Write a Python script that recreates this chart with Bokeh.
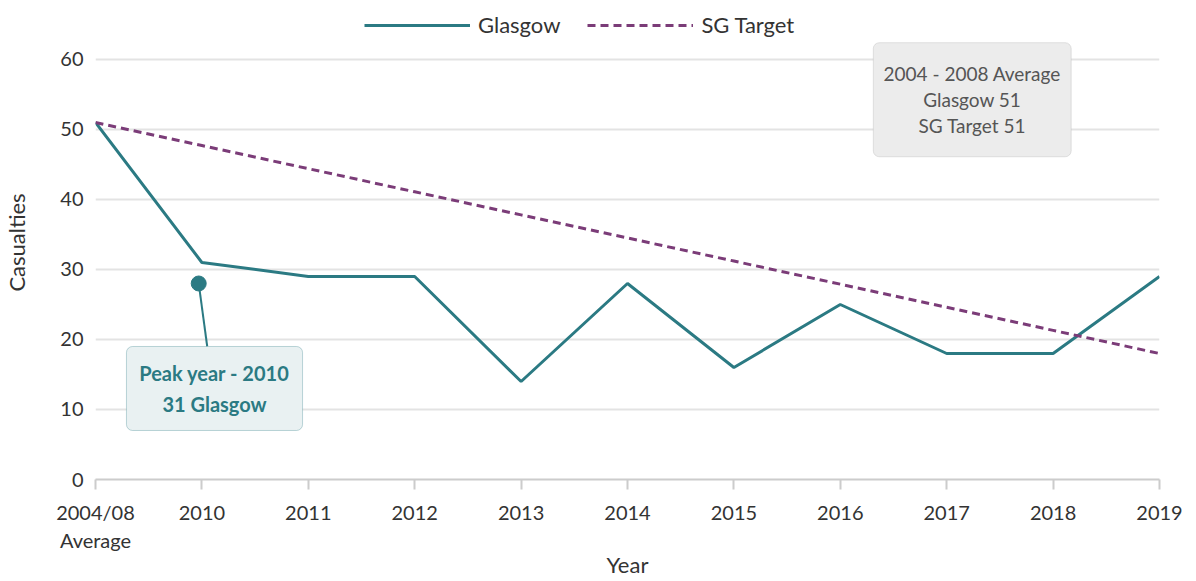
from bokeh.plotting import figure
from bokeh.models import (Range1d, FixedTicker, Legend, LegendItem, Label,
                          ColumnDataSource, BoxAnnotation)
from bokeh.embed import file_html
from bokeh.resources import INLINE

# ---- data ----
year_labels = ["2004/08\nAverage", "2010", "2011", "2012", "2013", "2014",
               "2015", "2016", "2017", "2018", "2019"]
glasgow = [51, 31, 29, 29, 14, 28, 16, 25, 18, 18, 29]
sg_target = [51, 47.7, 44.4, 41.1, 37.8, 34.5, 31.2, 27.9, 24.6, 21.3, 18]
y_ticks = [0, 10, 20, 30, 40, 50, 60]
peak_point = (0.97, 28)           # marker in the annotation
peak_text = "Peak year - 2010\n31 Glasgow"
avg_text = "2004 - 2008 Average\nGlasgow 51\nSG Target 51"

FONT = "Lato"
TEAL = "#2b7a83"
PURPLE = "#7b3c78"

xs = list(range(len(year_labels)))
src = ColumnDataSource(dict(x=xs, glasgow=glasgow, target=sg_target))

p = figure(width=1196, height=581, output_backend="svg", toolbar_location=None,
           x_range=Range1d(0, len(year_labels) - 1), y_range=Range1d(0, 67.71),
           min_border_left=95, min_border_right=37, min_border_top=5,
           min_border_bottom=102)
p.outline_line_color = None
p.background_fill_color = "white"

r1 = p.line("x", "glasgow", source=src, line_color=TEAL, line_width=3)
r2 = p.line("x", "target", source=src, line_color=PURPLE, line_width=3,
            line_dash="8 5")

# axes
p.xaxis.ticker = FixedTicker(ticks=xs)
p.xaxis.major_label_overrides = {i: lab for i, lab in enumerate(year_labels)}
p.xaxis.axis_line_color = "#cccccc"
p.xaxis.axis_line_width = 2
p.xaxis.major_tick_line_color = "#cccccc"
p.xaxis.major_tick_line_width = 2
p.xaxis.major_tick_out = 10
p.xaxis.major_tick_in = 0
p.xaxis.minor_tick_line_color = None
p.xaxis.major_label_text_font_size = "20px"
p.xaxis.major_label_text_color = "#333333"
p.xaxis.major_label_text_font = FONT
p.xaxis.major_label_text_line_height = 1.2
p.xaxis.major_label_standoff = 10
p.xaxis.axis_label = "Year"
p.xaxis.axis_label_text_font = FONT
p.xaxis.axis_label_text_font_style = "normal"
p.xaxis.axis_label_text_font_size = "22px"
p.xaxis.axis_label_text_color = "#333333"
p.xaxis.axis_label_standoff = -4

p.yaxis.ticker = FixedTicker(ticks=y_ticks)
p.yaxis.axis_line_color = None
p.yaxis.major_tick_line_color = None
p.yaxis.minor_tick_line_color = None
p.yaxis.major_label_text_font_size = "20px"
p.yaxis.major_label_text_color = "#333333"
p.yaxis.major_label_text_font = FONT
p.yaxis.major_label_standoff = 6
p.yaxis.axis_label = "Casualties"
p.yaxis.axis_label_text_font = FONT
p.yaxis.axis_label_text_font_style = "normal"
p.yaxis.axis_label_text_font_size = "22px"
p.yaxis.axis_label_text_color = "#333333"
p.yaxis.axis_label_standoff = 27

p.xgrid.grid_line_color = None
p.ygrid.grid_line_color = "#e3e3e3"
p.ygrid.grid_line_width = 2

# legend (screen px from the frame's bottom-left)
legend = Legend(items=[LegendItem(label="Glasgow", renderers=[r1]),
                       LegendItem(label="SG Target", renderers=[r2])],
                orientation="horizontal", location=(269, 441),
                glyph_width=106, glyph_height=20, label_standoff=8, spacing=27,
                label_text_font=FONT, label_text_font_size="22px",
                label_text_color="#333333", border_line_color=None,
                background_fill_alpha=0, padding=0, margin=0)
p.add_layout(legend)

# peak annotation
p.segment(x0=[peak_point[0]], y0=[peak_point[1]], x1=[1.05], y1=[19.0],
          line_color=TEAL, line_width=2)
p.scatter(x=[peak_point[0]], y=[peak_point[1]], size=15, color=TEAL)
p.add_layout(BoxAnnotation(left=0.291, right=1.946, bottom=7.0, top=19.0,
                           fill_color="#e9f1f2", fill_alpha=1,
                           line_color=TEAL, line_width=1, border_radius=6,
                           editable=False))
p.add_layout(Label(x=1.118, y=13.0, text=peak_text, text_align="center",
                   text_baseline="middle", text_font=FONT,
                   text_font_size="20px", text_font_style="bold",
                   text_color=TEAL, text_line_height=1.31))

# average annotation
p.add_layout(BoxAnnotation(left=7.31, right=9.17, bottom=46.1, top=62.4,
                           fill_color="#ececec", fill_alpha=1,
                           line_color="#aaaaaa", line_width=1, border_radius=6,
                           editable=False))
p.add_layout(Label(x=8.24, y=54.3, text=avg_text, text_align="center",
                   text_baseline="middle", text_font=FONT,
                   text_font_size="19px", text_color="#555555",
                   text_line_height=1.12))

open("out.html", "w").write(file_html(p, INLINE))
